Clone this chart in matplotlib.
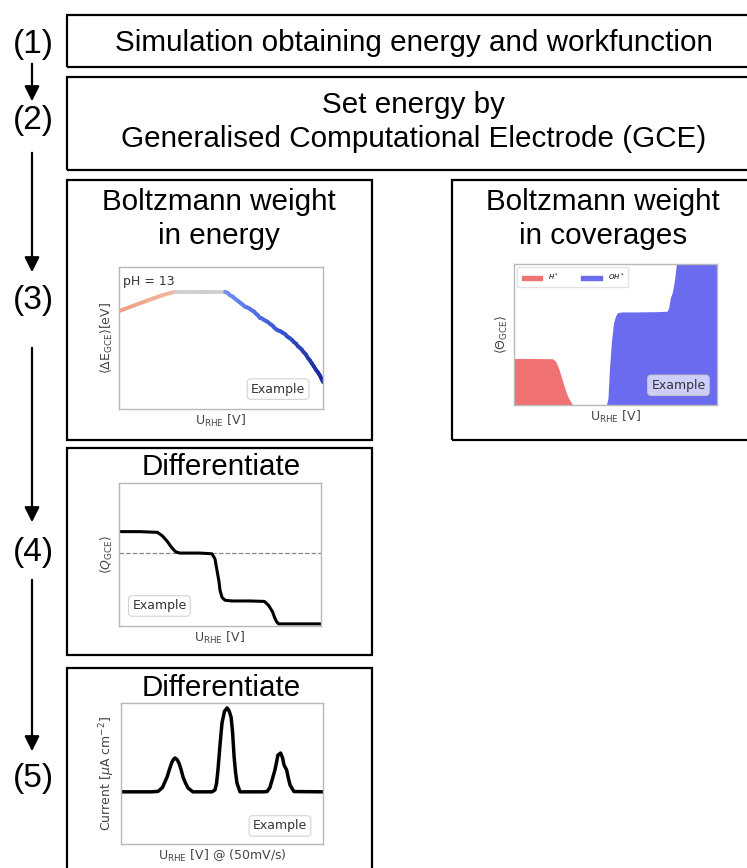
import numpy as np
import matplotlib
matplotlib.use("Agg")
import matplotlib.pyplot as plt
from matplotlib.patches import Rectangle, Patch, FancyArrowPatch
from matplotlib.collections import LineCollection
from matplotlib.colors import LinearSegmentedColormap

W, H = 747, 868

# ---- data (normalised) ----
energy_u = [0.0, 0.07, 0.14, 0.21, 0.275, 0.35, 0.43, 0.52,
            0.532, 0.545, 0.557, 0.569, 0.582, 0.595, 0.606, 0.618, 0.627,
            0.635, 0.644, 0.652, 0.662, 0.672, 0.681, 0.691, 0.700, 0.710,
            0.720, 0.730, 0.741, 0.752, 0.763, 0.775, 0.785, 0.795, 0.805,
            0.814, 0.822, 0.830, 0.839, 0.848, 0.858, 0.868, 0.877, 0.887,
            0.896, 0.905, 0.916, 0.926, 0.935, 0.945, 0.955, 0.966, 0.975,
            0.984, 0.992, 1.0]
energy_val = [0.69, 0.727, 0.764, 0.80, 0.826, 0.826, 0.826, 0.826,
              0.818, 0.800, 0.792, 0.776, 0.762, 0.748, 0.735, 0.720, 0.716,
              0.712, 0.702, 0.694, 0.686, 0.670, 0.660, 0.641, 0.638, 0.628,
              0.620, 0.612, 0.598, 0.588, 0.570, 0.556, 0.551, 0.545, 0.534,
              0.528, 0.514, 0.505, 0.497, 0.486, 0.470, 0.460, 0.442, 0.430,
              0.418, 0.400, 0.384, 0.359, 0.344, 0.322, 0.300, 0.275, 0.258,
              0.238, 0.215, 0.190]

cov_u = [0.0, 0.10, 0.19, 0.205, 0.22, 0.235, 0.25, 0.265, 0.28, 0.29,
         0.40, 0.455, 0.463, 0.47, 0.48, 0.49, 0.50, 0.51, 0.53, 0.60,
         0.70, 0.754, 0.762, 0.77, 0.78, 0.79, 0.80, 0.90, 1.0]
cov_h = [0.33, 0.33, 0.328, 0.31, 0.26, 0.19, 0.12, 0.06, 0.02, 0.0,
         0.0, 0.0, 0.0, 0.0, 0.0, 0.0, 0.0, 0.0, 0.0, 0.0,
         0.0, 0.0, 0.0, 0.0, 0.0, 0.0, 0.0, 0.0, 0.0]
cov_oh = [0.0, 0.0, 0.0, 0.0, 0.0, 0.0, 0.0, 0.0, 0.0, 0.0,
          0.0, 0.0, 0.05, 0.25, 0.45, 0.58, 0.63, 0.655, 0.66, 0.66,
          0.662, 0.665, 0.69, 0.76, 0.80, 0.88, 1.0, 1.0, 1.0]

q_u = [0.0, 0.10, 0.19, 0.215, 0.24, 0.26, 0.28, 0.30, 0.40, 0.46,
       0.475, 0.485, 0.495, 0.50, 0.51, 0.525, 0.56, 0.65, 0.72, 0.74,
       0.76, 0.77, 0.78, 0.79, 0.85, 1.0]
q_val = [0.66, 0.66, 0.655, 0.63, 0.59, 0.55, 0.52, 0.51, 0.51, 0.505,
         0.47, 0.39, 0.31, 0.25, 0.20, 0.18, 0.175, 0.175, 0.172, 0.145,
         0.10, 0.06, 0.03, 0.015, 0.015, 0.015]
q_ref = 0.51

cur_u = [0.0, 0.15, 0.183, 0.205, 0.228, 0.240, 0.252, 0.260, 0.267, 0.277,
         0.287, 0.297, 0.307, 0.320, 0.332, 0.356,
         0.45, 0.465, 0.473, 0.480, 0.490, 0.500, 0.512, 0.525, 0.535,
         0.545, 0.552, 0.560, 0.567, 0.574, 0.589,
         0.70, 0.723, 0.737, 0.748, 0.762, 0.770, 0.777, 0.790, 0.800,
         0.807, 0.820, 0.828, 0.837, 0.856, 1.0]
cur_val = [0.37, 0.37, 0.373, 0.40, 0.475, 0.53, 0.58, 0.60, 0.61, 0.60,
           0.574, 0.53, 0.475, 0.43, 0.397, 0.37,
           0.37, 0.383, 0.43, 0.525, 0.70, 0.858, 0.94, 0.965, 0.945,
           0.90, 0.80, 0.617, 0.51, 0.433, 0.37,
           0.37, 0.372, 0.40, 0.454, 0.525, 0.58, 0.631, 0.645, 0.61,
           0.56, 0.525, 0.47, 0.418, 0.372, 0.37]

step_labels = ["(1)", "(2)", "(3)", "(4)", "(5)"]
box1_text = "Simulation obtaining energy and workfunction"
box2_text = "Set energy by\nGeneralised Computational Electrode (GCE)"
box3a_text = "Boltzmann weight\nin energy"
box3b_text = "Boltzmann weight\nin coverages"
box4_text = "Differentiate"
box5_text = "Differentiate"

# ---- helpers in pixel coordinates ----
def fx(x):
    return x / W

def fy(y):
    return 1 - y / H

def box(fig, x0, y0, x1, y1):
    fig.add_artist(Rectangle((fx(x0), fy(y1)), fx(x1 - x0), (y1 - y0) / H,
                             transform=fig.transFigure, fill=False,
                             edgecolor="black", linewidth=1.6, clip_on=False))

def inset(fig, x0, y0, x1, y1):
    ax = fig.add_axes([fx(x0), fy(y1), fx(x1 - x0), (y1 - y0) / H])
    ax.set_xticks([])
    ax.set_yticks([])
    for s in ax.spines.values():
        s.set_color("#b8b8b8")
        s.set_linewidth(1.0)
    ax.set_xlim(0, 1)
    ax.set_ylim(0, 1)
    return ax

def example(ax, x, y, fc="white"):
    ax.text(x, y, "Example", transform=ax.transAxes, ha="center", va="center",
            fontsize=9, color="#333333",
            bbox=dict(boxstyle="round,pad=0.3", facecolor=fc, alpha=0.8,
                      edgecolor="#c8c8c8", linewidth=0.8))

big = dict(family="Liberation Sans", fontsize=21.3, color="black",
           ha="center", va="center")
small = dict(fontsize=9, color="#444444")

fig = plt.figure(figsize=(W / 100, H / 100), dpi=100)

# ---- boxes ----
box(fig, 67, 15, 752, 67)
box(fig, 67, 77, 752, 170)
box(fig, 67, 180, 372, 440)
box(fig, 452, 180, 752, 440)
box(fig, 67, 448, 372, 655)
box(fig, 67, 668, 372, 880)

fig.text(fx(414), fy(43), box1_text, **big)
fig.text(fx(414), fy(122), box2_text, linespacing=1.3, **big)
fig.text(fx(219), fy(219), box3a_text, linespacing=1.25, **big)
fig.text(fx(603), fy(219), box3b_text, linespacing=1.25, **big)
fig.text(fx(221), fy(467), box4_text, **big)
fig.text(fx(221), fy(688), box5_text, **big)

# ---- step labels and arrows ----
lab_kw = dict(big, fontsize=24)
for lab, y in zip(step_labels, [44, 120, 300, 553, 778]):
    fig.text(fx(33), fy(y), lab, **lab_kw)
for y0, y1 in [(61, 104), (150, 275), (345, 525), (577, 754)]:
    fig.add_artist(FancyArrowPatch(
        (fx(32), fy(y0)), (fx(32), fy(y1)), transform=fig.transFigure,
        arrowstyle="-|>,head_length=6,head_width=3", color="black",
        linewidth=1.6, mutation_scale=1.5))

# ---- (3a) energy ----
ax = inset(fig, 119, 267, 323, 409)
pts = np.column_stack([energy_u, energy_val])
segs = np.stack([pts[:-1], pts[1:]], axis=1)
u_mid = (np.array(energy_u[:-1]) + np.array(energy_u[1:])) / 2
shade = np.where(u_mid < 0.275, 0.95 - 0.15 * u_mid / 0.275,
                 np.where(u_mid < 0.52, 0.6,
                          0.42 - 0.42 * (u_mid - 0.52) / 0.48))
cmap = LinearSegmentedColormap.from_list(
    "ecurve", ["#1a2a9c", "#3d5ad8", "#6d8cf0", "#cfcfcf", "#f2b79c", "#ee9674"])
lc = LineCollection(segs, colors=cmap(shade), linewidth=2.8, capstyle="round",
                    joinstyle="round")
ax.add_collection(lc)
ax.text(0.02, 0.9, "pH = 13", transform=ax.transAxes, fontsize=9,
        color="#333333", va="center")
example(ax, 0.78, 0.14)
ax.set_xlabel(r"U$_{\rm RHE}$ [V]", labelpad=3, **small)
ax.set_ylabel(r"$\langle \Delta \mathrm{E}_{\rm GCE}\rangle$[eV]", labelpad=3,
              **small)

# ---- (3b) coverages ----
ax = inset(fig, 514, 264, 717, 405)
ax.fill_between(cov_u, cov_h, color="#f07272", linewidth=0)
ax.fill_between(cov_u, cov_oh, color="#6b6bef", linewidth=0)
ax.legend(handles=[Patch(color="#f07272", label=r"$H^*$"),
                   Patch(color="#6b6bef", label=r"$OH^*$")],
          loc="upper left", ncol=2, fontsize=5, frameon=True,
          handlelength=3.0, handleheight=0.5, borderpad=0.6,
          columnspacing=3.2, framealpha=0.8, edgecolor="#dddddd")
example(ax, 0.81, 0.14, fc="#e8e8ff")
ax.set_xlabel(r"U$_{\rm RHE}$ [V]", labelpad=3, **small)
ax.set_ylabel(r"$\langle \Theta_{\rm GCE}\rangle$", labelpad=3, **small)

# ---- (4) charge ----
ax = inset(fig, 119, 483, 321, 626)
ax.axhline(q_ref, color="#888888", linestyle="--", linewidth=0.9)
ax.plot(q_u, q_val, color="black", linewidth=2.2)
example(ax, 0.20, 0.14)
ax.set_xlabel(r"U$_{\rm RHE}$ [V]", labelpad=3, **small)
ax.set_ylabel(r"$\langle Q_{\rm GCE}\rangle$", labelpad=3, **small)

# ---- (5) current ----
ax = inset(fig, 121, 703, 323, 844)
ax.plot(cur_u, cur_val, color="black", linewidth=2.5)
example(ax, 0.787, 0.128)
ax.set_xlabel(r"U$_{\rm RHE}$ [V] @ (50mV/s)", labelpad=3, **small)
ax.set_ylabel(r"Current [$\mu$A cm$^{-2}$]", labelpad=3, **small)

fig.savefig("out.png", dpi=100)
